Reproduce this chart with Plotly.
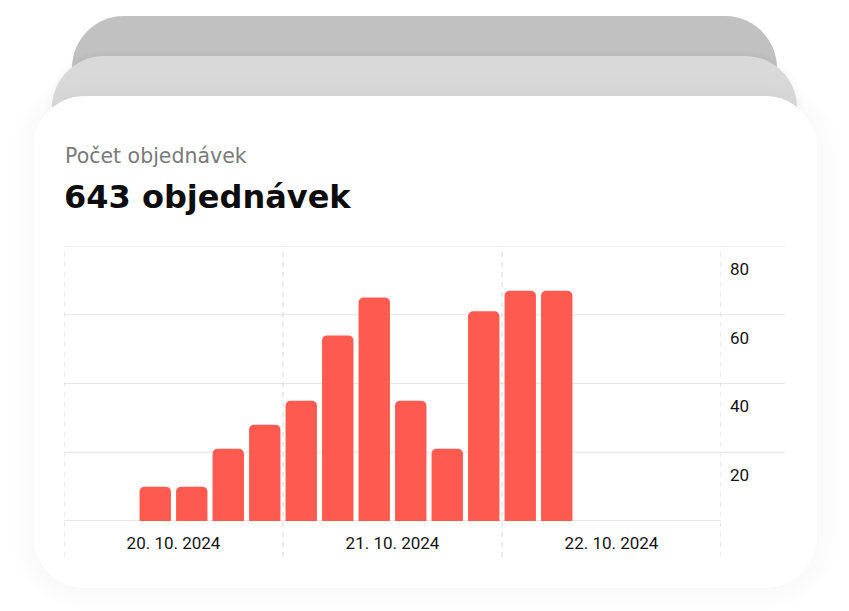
import plotly.graph_objects as go

# ---- data ----
slot_times = [
    "2024-10-20 10:00", "2024-10-20 14:00", "2024-10-20 18:00", "2024-10-20 22:00",
    "2024-10-21 02:00", "2024-10-21 06:00", "2024-10-21 10:00", "2024-10-21 14:00",
    "2024-10-21 18:00", "2024-10-21 22:00", "2024-10-22 02:00", "2024-10-22 06:00",
]
order_counts = [10, 10, 21, 28, 35, 54, 65, 35, 21, 61, 67, 67]
day_edges = ["2024-10-20", "2024-10-21", "2024-10-22", "2024-10-23"]
y_ticks = [20, 40, 60, 80]
subtitle = "Počet objednávek"
headline = "643 objednávek"

# ---- layout geometry (pixels, in window coordinates) ----
OFF = 8                      # default page body margin
WIN_W, WIN_H = 849, 611
W, H = WIN_W - OFF, WIN_H - OFF
PLOT_L, PLOT_R, PLOT_T, PLOT_B = 64, 721, 246, 521
ML, MT = PLOT_L - OFF, PLOT_T - OFF
MR = W - (PLOT_R - OFF)
MB = H - (PLOT_B - OFF)
PW = PLOT_R - PLOT_L
PH = PLOT_B - PLOT_T


def px(x):
    return (x - PLOT_L) / PW


def py(y):
    return (PLOT_B - y) / PH


def rrect(x0, y0, x1, y1, r):
    k = 0.5523 * r

    def P(x, y):
        return f"{px(x):.5f},{py(y):.5f}"
    d = f"M{P(x0 + r, y0)} L{P(x1 - r, y0)} "
    d += f"C{P(x1 - r + k, y0)} {P(x1, y0 + r - k)} {P(x1, y0 + r)} "
    d += f"L{P(x1, y1 - r)} "
    d += f"C{P(x1, y1 - r + k)} {P(x1 - r + k, y1)} {P(x1 - r, y1)} "
    d += f"L{P(x0 + r, y1)} "
    d += f"C{P(x0 + r - k, y1)} {P(x0, y1 - r + k)} {P(x0, y1 - r)} "
    d += f"L{P(x0, y0 + r)} "
    d += f"C{P(x0, y0 + r - k)} {P(x0 + r - k, y0)} {P(x0 + r, y0)} Z"
    return d


shapes = []
# back cards
shapes.append(dict(type="path", xref="paper", yref="paper", layer="below",
                   path=rrect(72, 16, 777, 300, 52), fillcolor="#c1c1c1", line=dict(width=0)))
for i in range(3):
    e = 6 - i * 2
    shapes.append(dict(type="path", xref="paper", yref="paper", layer="below",
                       path=rrect(52 - e, 56 - e, 797 + e, 320, 52 + e),
                       fillcolor="rgba(0,0,0,0.006)", line=dict(width=0)))
shapes.append(dict(type="path", xref="paper", yref="paper", layer="below",
                   path=rrect(52, 56, 797, 320, 52), fillcolor="#d9d9d9", line=dict(width=0)))
# very soft shadow for the front card
for i in range(6):
    e = 22 - i * 4
    shapes.append(dict(type="path", xref="paper", yref="paper", layer="below",
                       path=rrect(33 - e, 96 - e + 4, 817 + e, 588 + e, 52 + e),
                       fillcolor="rgba(0,0,0,0.004)", line=dict(width=0)))
# front card
shapes.append(dict(type="path", xref="paper", yref="paper", layer="below",
                   path=rrect(33, 96, 817, 588, 52), fillcolor="#ffffff", line=dict(width=0)))

# horizontal grid lines (extend past the plot into the label column)
for v in y_ticks:
    shapes.append(dict(type="line", xref="paper", yref="y", layer="below",
                       x0=0, x1=px(785), y0=v, y1=v,
                       line=dict(color="#e4e4e4", width=1.2)))
# baseline
shapes.append(dict(type="line", xref="paper", yref="y", layer="below",
                   x0=0, x1=1, y0=0, y1=0, line=dict(color="#dedede", width=1.6)))
# dashed vertical day separators
for d in day_edges:
    shapes.append(dict(type="line", xref="x", yref="paper", layer="below",
                       x0=d, x1=d, y0=py(557), y1=1,
                       line=dict(color="#d6d6d6", width=1, dash="5px,5px")))

fig = go.Figure()
fig.add_trace(go.Bar(
    x=slot_times, y=order_counts,
    marker=dict(color="#ff5a50", line=dict(width=0)),
    hoverinfo="skip",
))

fig.update_layout(
    width=W, height=H,
    margin=dict(l=ML, r=MR, t=MT, b=MB, autoexpand=False),
    paper_bgcolor="#ffffff",
    plot_bgcolor="rgba(0,0,0,0)",
    showlegend=False,
    bargap=0.14,
    barcornerradius=5,
    shapes=shapes,
    font=dict(family="Roboto", color="#1a1a1a"),
    xaxis=dict(
        type="date",
        range=["2024-10-20", "2024-10-23"],
        tick0="2024-10-20", dtick=86400000,
        ticklabelmode="period",
        tickformat="%-d. %-m. %Y",
        showgrid=False, zeroline=False, showline=False,
        ticks="", ticklabelstandoff=10,
        tickfont=dict(family="Roboto", size=17, color="#141414"),
        fixedrange=True,
    ),
    yaxis=dict(
        range=[0, 80], side="right",
        tickvals=y_ticks,
        showgrid=False, zeroline=False, showline=False,
        ticks="", ticklabelshift=23, ticklabelstandoff=8,
        tickfont=dict(family="Roboto", size=17, color="#141414"),
        fixedrange=True,
    ),
    annotations=[
        dict(text=subtitle, xref="paper", yref="paper", x=px(63), y=py(156),
             xanchor="left", yanchor="middle", showarrow=False,
             font=dict(family="DejaVu Sans", size=20.5, color="#7a7a7a")),
        dict(text=f"<b>{headline}</b>", xref="paper", yref="paper", x=px(62), y=py(197),
             xanchor="left", yanchor="middle", showarrow=False,
             font=dict(family="DejaVu Sans", size=32, color="#0d0d0d")),
    ],
)

fig.write_html("out.html", config={"displayModeBar": False})
